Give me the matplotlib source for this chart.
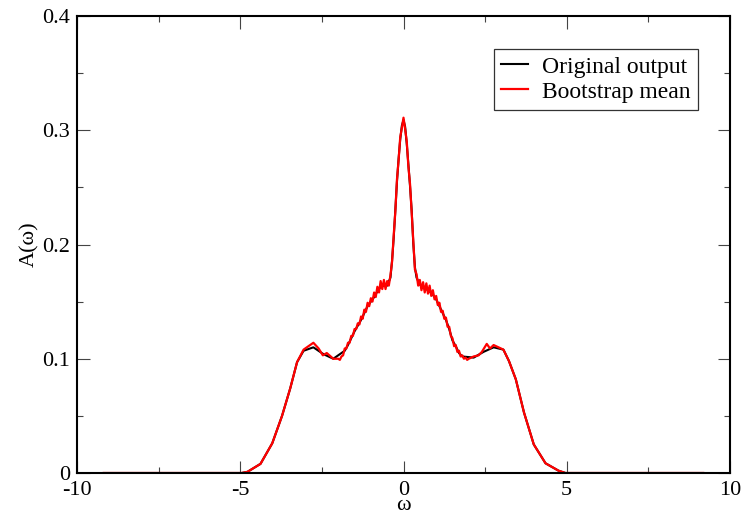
import numpy as np
import matplotlib
matplotlib.use("Agg")
import matplotlib.pyplot as plt

plt.rcParams['font.family'] = ['Liberation Serif', 'DejaVu Serif']

# original output (black)
w_orig = [-9.18, -4.96, -4.78, -4.38, -4.02, -3.72, -3.47, -3.26, -3.06, -2.76, -2.45, -2.15,
          -1.8, -1.7, -1.6, -1.5, -1.4, -1.3, -1.2, -1.1, -1.0, -0.9, -0.8, -0.7, -0.6, -0.5,
          -0.4, -0.35, -0.3, -0.25, -0.2, -0.15, -0.1, -0.05, 0.0, 0.05, 0.1, 0.15, 0.2, 0.25, 0.3, 0.35,
          0.4, 0.5, 0.6, 0.7, 0.8, 0.9,
          1.0, 1.1, 1.2, 1.3, 1.4, 1.5, 1.6, 1.7, 1.8,
          2.15, 2.45, 2.76, 3.06, 3.23, 3.44, 3.69, 3.99, 4.35, 4.75, 4.96, 9.18]
a_orig = [0.0, 0.0, 0.001, 0.008, 0.026, 0.050, 0.074, 0.097, 0.107, 0.110, 0.104, 0.100,
          0.107, 0.112, 0.118, 0.124, 0.129, 0.134, 0.140, 0.146, 0.150, 0.154, 0.159, 0.163, 0.164, 0.164,
          0.171, 0.186, 0.206, 0.230, 0.255, 0.275, 0.292, 0.304, 0.309, 0.303, 0.288, 0.270, 0.251, 0.230, 0.201, 0.180,
          0.171, 0.165, 0.162, 0.161, 0.159, 0.156,
          0.152, 0.146, 0.140, 0.134, 0.126, 0.116, 0.111, 0.105, 0.102,
          0.101, 0.106, 0.110, 0.108, 0.098, 0.082, 0.053, 0.025, 0.0085, 0.002, 0.0, 0.0]

# bootstrap mean (red)
w_boot = [-9.18, -4.96, -4.78, -4.38, -4.02, -3.72, -3.47, -3.26, -3.06, -2.76, -2.60, -2.47, -2.35, -2.15,
          -2.00, -1.95, -1.90, -1.85, -1.80, -1.75, -1.70, -1.65, -1.60, -1.55, -1.50, -1.45, -1.40, -1.35,
          -1.30, -1.25, -1.20, -1.15, -1.10, -1.05, -1.00, -0.95, -0.90, -0.85, -0.80, -0.75, -0.70, -0.65,
          -0.60, -0.55, -0.50, -0.45, -0.40, -0.35, -0.30, -0.25, -0.20, -0.15, -0.10, -0.05, 0.00,
          0.05, 0.10, 0.15, 0.20, 0.25, 0.30, 0.35, 0.40, 0.45, 0.50, 0.55, 0.60, 0.65, 0.70, 0.75,
          0.80, 0.85, 0.90, 0.95, 1.00, 1.05, 1.10, 1.15, 1.20, 1.25, 1.30, 1.35, 1.40, 1.45, 1.50,
          1.55, 1.60, 1.65, 1.70, 1.75, 1.80, 1.85, 1.90, 1.95, 2.00,
          2.15, 2.30, 2.40, 2.55, 2.65, 2.76, 3.06, 3.23, 3.44, 3.69, 3.99, 4.35, 4.75, 4.96, 9.18]
a_boot = [0.0, 0.0, 0.001, 0.008, 0.026, 0.050, 0.074, 0.097, 0.108, 0.114, 0.109, 0.103, 0.105, 0.100,
          0.100, 0.099, 0.102, 0.103, 0.109, 0.109, 0.114, 0.114, 0.120, 0.120, 0.126, 0.126, 0.131, 0.130,
          0.137, 0.135, 0.143, 0.141, 0.149, 0.146, 0.153, 0.150, 0.158, 0.154, 0.163, 0.158, 0.168, 0.161,
          0.169, 0.161, 0.168, 0.164, 0.173, 0.185, 0.208, 0.229, 0.257, 0.274, 0.294, 0.302, 0.311,
          0.301, 0.290, 0.268, 0.253, 0.228, 0.203, 0.178, 0.174, 0.164, 0.169, 0.160, 0.167, 0.158, 0.166, 0.157,
          0.164, 0.155, 0.160, 0.152, 0.155, 0.147, 0.149, 0.141, 0.142, 0.135, 0.136, 0.128, 0.128, 0.120, 0.118,
          0.111, 0.112, 0.106, 0.107, 0.102, 0.103, 0.100, 0.101, 0.099, 0.100,
          0.102, 0.103, 0.106, 0.113, 0.109, 0.112, 0.108, 0.098, 0.082, 0.053, 0.025, 0.0085, 0.002, 0.0, 0.0]

fig = plt.figure(figsize=(7.43, 5.15), dpi=100)
ax = fig.add_axes([77/743, 1 - 473/515, 653/743, 457/515])

ax.plot(w_orig, a_orig, color='black', lw=1.5, label='Original output')
ax.plot(w_boot, a_boot, color='red', lw=1.6, label='Bootstrap mean')

ax.set_xlim(-10, 10)
ax.set_ylim(0, 0.4)
ax.set_xticks([-10, -5, 0, 5, 10])
ax.set_xticklabels(['-10', '-5', '0', '5', '10'])
ax.set_xticks(np.arange(-7.5, 10, 5), minor=True)
ax.set_yticks([0, 0.1, 0.2, 0.3, 0.4])
ax.set_yticklabels(['0', '0.1', '0.2', '0.3', '0.4'])
ax.set_yticks([0.05, 0.15, 0.25, 0.35], minor=True)

ax.tick_params(which='both', direction='in', top=True, right=True, labelsize=16, width=0.8, color='#444444')
ax.tick_params(which='major', length=9)
ax.tick_params(which='minor', length=4.5)
ax.tick_params(axis='x', pad=6)
ax.tick_params(axis='y', pad=5)
for s in ax.spines.values():
    s.set_linewidth(1.5)

ax.set_xlabel('ω', fontsize=16, labelpad=-3)
ax.set_ylabel('A(ω)', fontsize=16, labelpad=2)

leg = ax.legend(loc='upper right', bbox_to_anchor=(0.951, 0.928), borderaxespad=0,
                fontsize=17, frameon=True, fancybox=False, handlelength=1.15,
                handletextpad=0.6, borderpad=0.3, labelspacing=0.15)
leg.get_frame().set_edgecolor('black')
leg.get_frame().set_linewidth(0.9)

fig.savefig('out.png', dpi=100)
